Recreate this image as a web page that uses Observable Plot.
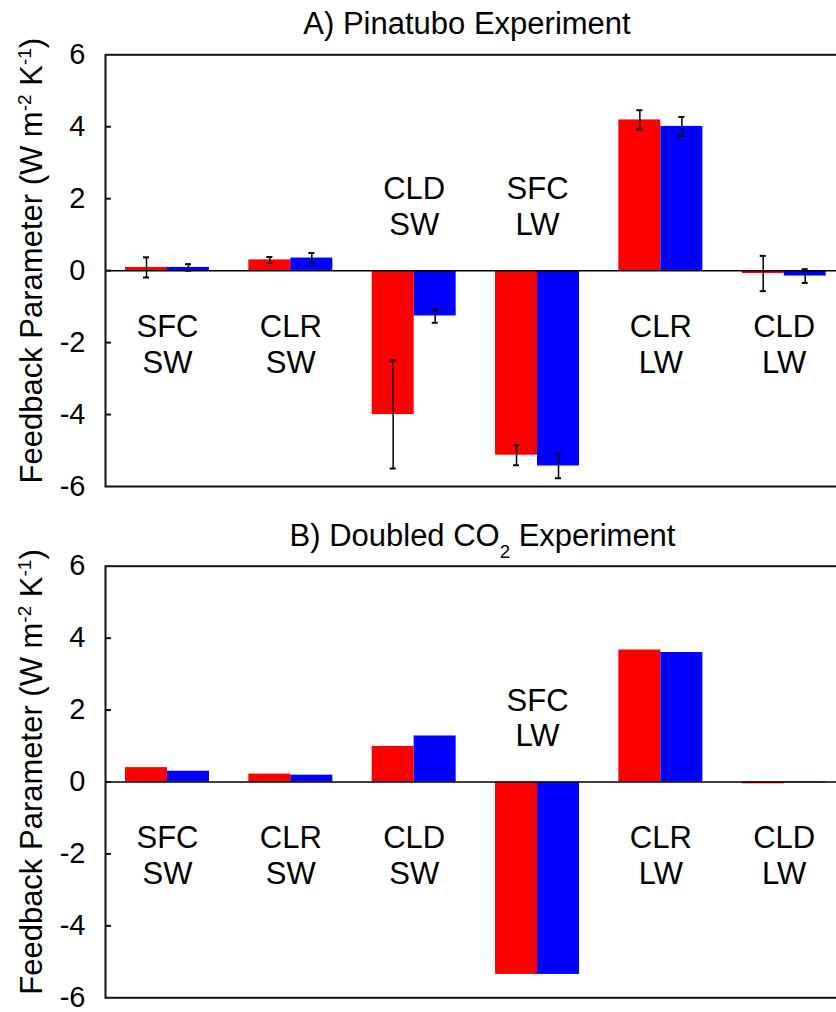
<!DOCTYPE html>
<html><head><meta charset="utf-8">
<script src="https://cdn.jsdelivr.net/npm/d3@7"></script>
<script src="https://cdn.jsdelivr.net/npm/@observablehq/plot@0.6"></script>
<style>
html,body{margin:0;padding:0;background:#fff;overflow:hidden;}
#wrap{position:relative;width:836px;height:1012px;font-family:"Liberation Sans",Arial,sans-serif;}
.title{position:absolute;width:600px;text-align:center;font-size:31px;line-height:31px;color:#000;white-space:nowrap;}
.sub{position:relative;top:12px;font-size:0.6em;}
#a,#b{position:absolute;left:0;}
#a{top:0px}
#b{top:512px}
</style></head><body>
<div id="wrap">
  <div id="a"></div>
  <div id="b"></div>
  <div class="title" style="left:167px;top:8px">A) Pinatubo Experiment</div>
  <div class="title" style="left:182.5px;top:520.4px">B) Doubled CO<span class="sub">2</span> Experiment</div>
</div>
<script>
// ---- data ----
const categories = ["SFC SW", "CLR SW", "CLD SW", "SFC LW", "CLR LW", "CLD LW"];
const yTicks = [-6, -4, -2, 0, 2, 4, 6];
const yLabel = "Feedback Parameter (W m-2 K-1)";

// A) Pinatubo experiment
const pinRed     = [0.09, 0.30, -4.00, -5.13, 4.19, -0.08];
const pinBlue    = [0.09, 0.35, -1.26, -5.43, 4.01, -0.15];
const pinRedErr  = [0.28, 0.08, 1.50, 0.28, 0.27, 0.49];
const pinBlueErr = [0.09, 0.14, 0.19, 0.34, 0.26, 0.19];

// B) Doubled CO2 experiment
const co2Red  = [0.40, 0.22, 0.99, -5.35, 3.67, -0.05];
const co2Blue = [0.30, 0.19, 1.28, -5.35, 3.60, -0.02];

// ---- layout ----
const W = 836, ML = 105;
const X_RANGE = [125, 825.7], PAD = 0.319;
const bw = d3.scaleBand().domain(categories).range(X_RANGE).paddingInner(PAD).paddingOuter(0).bandwidth();
const FONT = "Liberation Sans, Arial, sans-serif";
const LABEL_BELOW = -2.02, LABEL_ABOVE = 1.8;

function panel({red, blue, redErr, blueErr, height, marginTop, marginBottom}) {
  const rows = categories.map((c, i) => ({
    cat: c, red: red[i], blue: blue[i],
    redErr: redErr ? redErr[i] : null, blueErr: blueErr ? blueErr[i] : null,
    label: c.replace(" ", "\n"),
    ly: Math.min(red[i], blue[i]) < -1 ? LABEL_ABOVE : LABEL_BELOW
  }));
  const marks = [
    Plot.barY(rows, {x: "cat", y: "red", fill: "#ff0000", insetRight: bw / 2}),
    Plot.barY(rows, {x: "cat", y: "blue", fill: "#0000ff", insetLeft: bw / 2}),
    Plot.ruleY([0], {stroke: "#000", strokeWidth: 1.5}),
    Plot.frame({stroke: "#111", strokeWidth: 2, insetRight: -6}),
    Plot.tickY(yTicks.slice(1, -1), {y: d => d, stroke: "#111", strokeWidth: 2, insetRight: W - ML - 6}),
    Plot.text(rows, {x: "cat", y: "ly", text: "label", fontSize: 31, lineHeight: 1.15, lineAnchor: "middle", fill: "#000"}),
    Plot.text([yLabel], {frameAnchor: "left", rotate: -90, textAnchor: "middle", dx: -73, dy: -10, fontSize: 31, fill: "#000"})
  ];
  if (redErr) {
    const cap = 3;
    marks.push(
      Plot.ruleX(rows, {x: "cat", y1: d => d.red - d.redErr, y2: d => d.red + d.redErr, dx: -bw / 4, stroke: "#000", strokeWidth: 1.5}),
      Plot.ruleX(rows, {x: "cat", y1: d => d.blue - d.blueErr, y2: d => d.blue + d.blueErr, dx: bw / 4, stroke: "#000", strokeWidth: 1.5}),
      Plot.tickY(rows, {x: "cat", y: d => d.red + d.redErr, insetLeft: bw / 4 - cap, insetRight: 3 * bw / 4 - cap, stroke: "#000", strokeWidth: 2}),
      Plot.tickY(rows, {x: "cat", y: d => d.red - d.redErr, insetLeft: bw / 4 - cap, insetRight: 3 * bw / 4 - cap, stroke: "#000", strokeWidth: 2}),
      Plot.tickY(rows, {x: "cat", y: d => d.blue + d.blueErr, insetLeft: 3 * bw / 4 - cap, insetRight: bw / 4 - cap, stroke: "#000", strokeWidth: 2}),
      Plot.tickY(rows, {x: "cat", y: d => d.blue - d.blueErr, insetLeft: 3 * bw / 4 - cap, insetRight: bw / 4 - cap, stroke: "#000", strokeWidth: 2})
    );
  }
  const svg = Plot.plot({
    width: W, height, marginLeft: ML, marginRight: 0, marginTop, marginBottom,
    style: {fontFamily: FONT, fontSize: "29px", color: "#000", background: "#fff", overflow: "hidden"},
    x: {domain: categories, range: X_RANGE, paddingInner: PAD, paddingOuter: 0, round: false, axis: null},
    y: {domain: [-6, 6], ticks: yTicks, tickSize: 0, tickPadding: 20, tickFormat: d => String(d), label: null},
    marks
  });
  // superscripts in the y label
  d3.select(svg).selectAll("text").filter(function() { return this.textContent === yLabel; }).each(function() {
    const t = d3.select(this);
    t.text(null);
    t.append("tspan").text("Feedback Parameter (W m");
    t.append("tspan").attr("dy", -11).attr("font-size", 19).text("-2");
    t.append("tspan").attr("dy", 11).text(" K");
    t.append("tspan").attr("dy", -11).attr("font-size", 19).text("-1");
    t.append("tspan").attr("dy", 11).text(")");
  });
  return svg;
}

document.getElementById("a").append(panel({
  red: pinRed, blue: pinBlue, redErr: pinRedErr, blueErr: pinBlueErr,
  height: 512, marginTop: 54.3, marginBottom: 26
}));
document.getElementById("b").append(panel({
  red: co2Red, blue: co2Blue, redErr: null, blueErr: null,
  height: 500, marginTop: 53.7, marginBottom: 14.7
}));
</script>
</body></html>
